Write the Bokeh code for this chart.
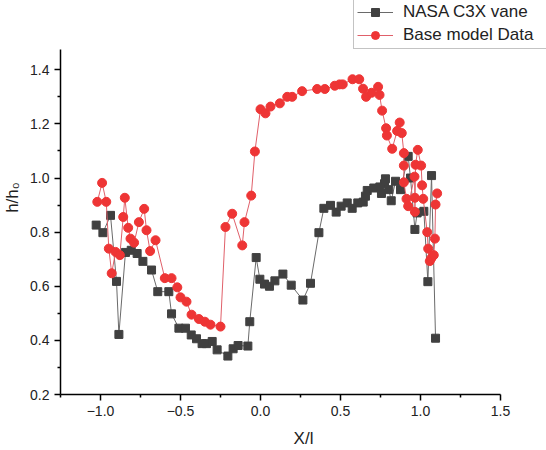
from bokeh.plotting import figure
from bokeh.models import Legend, LegendItem, FixedTicker, Range1d, CustomJSTickFormatter
from bokeh.embed import file_html
from bokeh.resources import INLINE

# NASA C3X vane (gray squares)
nasa_x = [-1.027, -0.985, -0.9375, -0.9, -0.885, -0.844, -0.808, -0.771, -0.735, -0.681,
          -0.642, -0.573, -0.556, -0.51, -0.469, -0.433, -0.4, -0.365, -0.3375, -0.302,
          -0.271, -0.204, -0.171, -0.14, -0.079, -0.067, -0.027, -0.004, 0.025, 0.056,
          0.09, 0.14, 0.192, 0.265, 0.3125, 0.365, 0.396, 0.4375, 0.473, 0.504,
          0.542, 0.573, 0.608, 0.642, 0.656, 0.667, 0.708, 0.746, 0.756, 0.775,
          0.781, 0.802, 0.817, 0.844, 0.875, 0.923, 0.9375, 0.965, 0.979, 1.021,
          1.046, 1.069, 1.094]
nasa_y = [0.826, 0.798, 0.862, 0.618, 0.422, 0.725, 0.733, 0.721, 0.692, 0.66,
          0.58, 0.58, 0.498, 0.445, 0.445, 0.42, 0.406, 0.388, 0.388, 0.396,
          0.365, 0.342, 0.369, 0.381, 0.379, 0.469, 0.706, 0.626, 0.608, 0.60,
          0.62, 0.645, 0.604, 0.549, 0.611, 0.798, 0.888, 0.899, 0.874, 0.896,
          0.908, 0.888, 0.908, 0.911, 0.933, 0.954, 0.963, 0.967, 0.943, 0.979,
          0.997, 0.957, 0.916, 0.988, 0.957, 1.08, 1.0, 0.81, 0.871, 0.877,
          0.617, 1.009, 0.408]

# Base model data (red circles)
base_x = [-1.02, -0.99, -0.964, -0.948, -0.93, -0.906, -0.879, -0.858, -0.848, -0.827,
          -0.8125, -0.79, -0.76, -0.727, -0.7125, -0.69, -0.656, -0.598, -0.556, -0.52,
          -0.5, -0.4625, -0.431, -0.385, -0.348, -0.3125, -0.25, -0.219, -0.177, -0.114,
          -0.1, -0.058, -0.035, 0.0, 0.031, 0.0625, 0.121, 0.167, 0.198, 0.26,
          0.354, 0.402, 0.464, 0.494, 0.514, 0.575, 0.617, 0.641, 0.66, 0.694,
          0.735, 0.744, 0.76, 0.785, 0.79, 0.823, 0.854, 0.87, 0.883, 0.896,
          0.896, 0.896, 0.9125, 0.923, 0.9625, 0.965, 0.965, 0.969, 0.983, 1.004,
          1.01, 1.017, 1.042, 1.048, 1.058, 1.067, 1.083, 1.09, 1.094, 1.104]
base_y = [0.912, 0.982, 0.912, 0.739, 0.648, 0.727, 0.715, 0.856, 0.927, 0.816,
          0.776, 0.761, 0.837, 0.886, 0.807, 0.73, 0.77, 0.63, 0.63, 0.596,
          0.559, 0.543, 0.495, 0.479, 0.469, 0.458, 0.451, 0.819, 0.868, 0.751,
          0.837, 0.935, 1.098, 1.254, 1.239, 1.264, 1.276, 1.30, 1.30, 1.321,
          1.329, 1.329, 1.341, 1.346, 1.346, 1.365, 1.365, 1.33, 1.30, 1.315,
          1.337, 1.307, 1.249, 1.184, 1.157, 1.108, 1.174, 1.205, 1.166, 1.092,
          1.046, 0.984, 0.923, 0.896, 1.005, 0.927, 0.875, 1.049, 1.104, 1.046,
          0.973, 0.923, 0.80, 0.739, 0.693, 0.703, 0.715, 0.776, 0.902, 0.943]

x_ticks = [-1.0, -0.5, 0.0, 0.5, 1.0, 1.5]
x_minor = [-1.25, -0.75, -0.25, 0.25, 0.75, 1.25]
y_ticks = [0.2, 0.4, 0.6, 0.8, 1.0, 1.2, 1.4]
y_minor = [0.3, 0.5, 0.7, 0.9, 1.1, 1.3]

FONT = "Liberation Sans"

p = figure(width=546, height=450, output_backend="svg", toolbar_location=None,
           x_range=Range1d(-1.25, 1.7875), y_range=Range1d(0.2, 1.656),
           min_border_left=60, min_border_right=0, min_border_top=0, min_border_bottom=54)
p.outline_line_color = None
p.grid.visible = False
p.background_fill_color = "white"
p.border_fill_color = "white"

l1 = p.line(nasa_x, nasa_y, line_color="#6a6a6a", line_width=1)
s1 = p.scatter(nasa_x, nasa_y, marker="square", size=8, fill_color="#404040", line_color="#404040")
l2 = p.line(base_x, base_y, line_color="#e0606a", line_width=1)
s2 = p.scatter(base_x, base_y, marker="circle", size=9, fill_color="#ee3535", line_color="#ee3535")

fmt = CustomJSTickFormatter(code="return tick.toFixed(1).replace('-', '\u2212');")
for ax, ticks, minor, bnds in ((p.xaxis[0], x_ticks, x_minor, (-1.25, 1.5)),
                               (p.yaxis[0], y_ticks, y_minor, (0.2, 1.475))):
    ax.ticker = FixedTicker(ticks=ticks, minor_ticks=minor)
    ax.bounds = bnds
    ax.formatter = fmt
    ax.axis_line_width = 1.5
    ax.axis_line_color = "black"
    ax.major_tick_line_width = 1.5
    ax.minor_tick_line_width = 1.5
    ax.major_tick_in = 0
    ax.major_tick_out = 6
    ax.minor_tick_in = 0
    ax.minor_tick_out = 3
    ax.major_label_text_font = FONT
    ax.major_label_text_font_size = "14px"
    ax.major_label_text_color = "#222222"
    ax.major_label_standoff = 5
    ax.axis_label_text_font = FONT
    ax.axis_label_text_font_size = "17px"
    ax.axis_label_text_font_style = "normal"
    ax.axis_label_text_color = "#222222"

p.xaxis[0].axis_label = "X/l"
p.xaxis[0].axis_label_standoff = 10
p.yaxis[0].axis_label = "h/h\u2080"
p.yaxis[0].axis_label_standoff = 5

legend = Legend(items=[LegendItem(label="NASA C3X vane", renderers=[l1, s1]),
                       LegendItem(label="Base model Data", renderers=[l2, s2])],
                location=(293, 345))
legend.label_text_font = FONT
legend.label_text_font_size = "17px"
legend.label_text_color = "#222222"
legend.glyph_width = 36
legend.glyph_height = 20
legend.label_width = 170
legend.label_standoff = 10
legend.spacing = 3
legend.padding = 3
legend.margin = 0
legend.border_line_color = "#888888"
legend.border_line_width = 1
legend.background_fill_alpha = 1
p.add_layout(legend)

open("out.html", "w").write(file_html(p, INLINE))
